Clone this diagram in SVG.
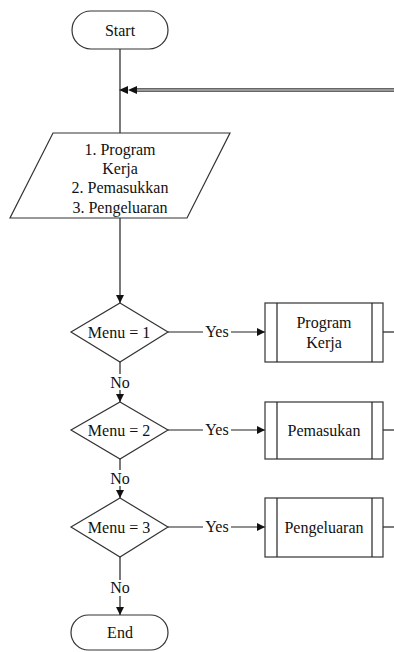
<svg xmlns="http://www.w3.org/2000/svg" width="394" height="652" viewBox="0 0 394 652">
  <defs>
    <marker id="arrow" viewBox="0 0 10 10" refX="10" refY="5" markerWidth="8" markerHeight="8" markerUnits="userSpaceOnUse" orient="auto">
      <path d="M0,0 L10,5 L0,10 Z" fill="#111"/>
    </marker>
    <style>
      .shape { fill: #fff; stroke: #333; stroke-width: 1.2; }
      .line { fill: none; stroke: #222; stroke-width: 1.2; }
      .lbl { font-family: "Liberation Serif", "Times New Roman", serif; font-size: 16px; fill: #111; text-anchor: middle; }
      .bg { fill: #fff; stroke: none; }
    </style>
  </defs>
  <rect width="394" height="652" fill="#fff"/>

  <g id="connectors">
    <!-- main spine -->
    <line class="line" x1="120" y1="49" x2="120" y2="133"/>
    <!-- return line coming back from the right (double line) -->
    <line x1="394" y1="90" x2="136" y2="90" stroke="#333" stroke-width="3.4"/>
    <line x1="394" y1="90" x2="136" y2="90" stroke="#fff" stroke-width="1.2"/>
    <path d="M119,90 L128,86 L128,94 Z" fill="#111"/>
    <path d="M128,90 L137,86 L137,94 Z" fill="#111"/>

    <line class="line" x1="120" y1="218" x2="120" y2="303" marker-end="url(#arrow)"/>

    <!-- Yes branches -->
    <line class="line" x1="168" y1="332" x2="265" y2="332" marker-end="url(#arrow)"/>
    <line class="line" x1="168" y1="430" x2="265" y2="430" marker-end="url(#arrow)"/>
    <line class="line" x1="168" y1="527" x2="265" y2="527" marker-end="url(#arrow)"/>

    <!-- No branches -->
    <line class="line" x1="120" y1="362" x2="120" y2="402" marker-end="url(#arrow)"/>
    <line class="line" x1="120" y1="459" x2="120" y2="498" marker-end="url(#arrow)"/>
    <line class="line" x1="120" y1="557" x2="120" y2="615" marker-end="url(#arrow)"/>

    <!-- outgoing lines from the processes -->
    <line class="line" x1="383" y1="332" x2="394" y2="332"/>
    <line class="line" x1="383" y1="430" x2="394" y2="430"/>
    <line class="line" x1="383" y1="527" x2="394" y2="527"/>

    <!-- labels -->
    <rect class="bg" x="203" y="324" width="28" height="16"/>
    <text class="lbl" x="217" y="337">Yes</text>
    <rect class="bg" x="203" y="422" width="28" height="16"/>
    <text class="lbl" x="217" y="435">Yes</text>
    <rect class="bg" x="203" y="519" width="28" height="16"/>
    <text class="lbl" x="217" y="532">Yes</text>

    <rect class="bg" x="108" y="374" width="24" height="16"/>
    <text class="lbl" x="120" y="388">No</text>
    <rect class="bg" x="108" y="470" width="24" height="16"/>
    <text class="lbl" x="120" y="484">No</text>
    <rect class="bg" x="108" y="580" width="24" height="16"/>
    <text class="lbl" x="120" y="593">No</text>
  </g>

  <g id="start">
    <rect class="shape" x="72" y="11" width="96" height="38" rx="19" ry="19"/>
    <text class="lbl" x="120" y="36">Start</text>
  </g>

  <g id="menu-input">
    <polygon class="shape" points="53,133 230,133 187,218 10,218"/>
    <text class="lbl" x="120" y="155">1. Program</text>
    <text class="lbl" x="120" y="174">Kerja</text>
    <text class="lbl" x="120" y="193">2. Pemasukkan</text>
    <text class="lbl" x="120" y="213">3. Pengeluaran</text>
  </g>

  <g id="decision-1">
    <polygon class="shape" points="120,303 168,332 120,362 71,332"/>
    <text class="lbl" x="119" y="338">Menu = 1</text>
  </g>
  <g id="process-1">
    <rect class="shape" x="265" y="303" width="118" height="59"/>
    <line class="line" x1="277" y1="303" x2="277" y2="362"/>
    <line class="line" x1="372" y1="303" x2="372" y2="362"/>
    <text class="lbl" x="324" y="328">Program</text>
    <text class="lbl" x="324" y="348">Kerja</text>
  </g>

  <g id="decision-2">
    <polygon class="shape" points="120,402 168,430 120,459 71,430"/>
    <text class="lbl" x="119" y="436">Menu = 2</text>
  </g>
  <g id="process-2">
    <rect class="shape" x="265" y="402" width="118" height="57"/>
    <line class="line" x1="277" y1="402" x2="277" y2="459"/>
    <line class="line" x1="372" y1="402" x2="372" y2="459"/>
    <text class="lbl" x="324" y="436">Pemasukan</text>
  </g>

  <g id="decision-3">
    <polygon class="shape" points="120,498 168,527 120,557 71,527"/>
    <text class="lbl" x="119" y="533">Menu = 3</text>
  </g>
  <g id="process-3">
    <rect class="shape" x="265" y="498" width="118" height="59"/>
    <line class="line" x1="277" y1="498" x2="277" y2="557"/>
    <line class="line" x1="372" y1="498" x2="372" y2="557"/>
    <text class="lbl" x="324" y="533">Pengeluaran</text>
  </g>

  <g id="end">
    <rect class="shape" x="71" y="615" width="97" height="35" rx="17.5" ry="17.5"/>
    <text class="lbl" x="120" y="638">End</text>
  </g>
</svg>
